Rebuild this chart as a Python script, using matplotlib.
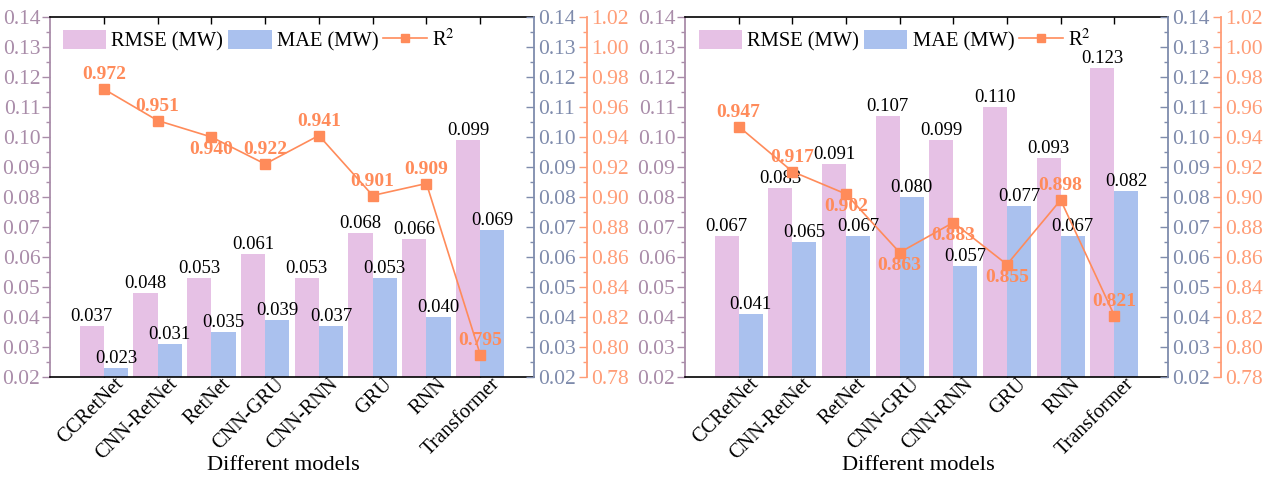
import matplotlib
matplotlib.use("Agg")
import matplotlib.pyplot as plt
from matplotlib.ticker import MultipleLocator, FormatStrFormatter
from matplotlib.patches import Patch
from matplotlib.lines import Line2D
from matplotlib.transforms import ScaledTranslation

plt.rcParams['font.family'] = ['Liberation Serif', 'DejaVu Serif']
plt.rcParams['mathtext.fontset'] = 'stix'

models = ["CCRetNet", "CNN-RetNet", "RetNet", "CNN-GRU", "CNN-RNN", "GRU", "RNN", "Transformer"]

rmse_left = [0.037, 0.048, 0.053, 0.061, 0.053, 0.068, 0.066, 0.099]
mae_left = [0.023, 0.031, 0.035, 0.039, 0.037, 0.053, 0.040, 0.069]
r2_left = [0.972, 0.951, 0.940, 0.922, 0.941, 0.901, 0.909, 0.795]
r2_pos_left = ["a", "a", "b", "a", "a", "a", "a", "a"]

rmse_right = [0.067, 0.083, 0.091, 0.107, 0.099, 0.110, 0.093, 0.123]
mae_right = [0.041, 0.065, 0.067, 0.080, 0.057, 0.077, 0.067, 0.082]
r2_right = [0.947, 0.917, 0.902, 0.863, 0.883, 0.855, 0.898, 0.821]
r2_pos_right = ["a", "a", "b", "b", "b", "b", "a", "a"]

C_RMSE = "#E6C1E5"
C_MAE = "#AAC1EE"
C_R2 = "#FF8B5A"
C_LAX = "#A98CA9"
C_BAX = "#7E8BAC"
C_OAX = "#FF9D77"

FS_BAR = 13.5
FS_R2 = 14
FS_TICK = 15.5
FS_XT = 14.7
FS_LEG = 14.8
FS_XL = 16.2

fig = plt.figure(figsize=(12.69, 4.8), dpi=100)
W, H = 1269, 480


def panel(left_px, width_px, rmse, mae, r2, pos, leg_x):
    ax = fig.add_axes([left_px / W, (480 - 377) / H, width_px / W, 360 / H])
    x = list(range(1, len(models) + 1))
    w = 0.45
    xr = [i - w / 2 for i in x]
    xm = [i + w / 2 for i in x]
    ax.bar(xr, rmse, width=w, color=C_RMSE, zorder=2)
    ax.bar(xm, mae, width=w, color=C_MAE, zorder=2)
    for xi, v in zip(xr, rmse):
        ax.annotate(f"{v:.3f}", (xi, v), xytext=(0, 1), textcoords="offset points",
                    ha="center", va="bottom", fontsize=FS_BAR, color="black", zorder=5)
    for xi, v in zip(xm, mae):
        ax.annotate(f"{v:.3f}", (xi, v), xytext=(0, 1), textcoords="offset points",
                    ha="center", va="bottom", fontsize=FS_BAR, color="black", zorder=5)
    ax.set_xlim(0, 9)
    ax.set_ylim(0.02, 0.14)
    ax.set_xticks(x)
    ax.set_xticklabels(models, rotation=45, ha="right", va="top",
                       rotation_mode="anchor", fontsize=FS_XT)
    ax.tick_params(axis="x", direction="in", top=True, length=5, width=1, pad=4)
    shift = ScaledTranslation(10 / 100, 8 / 100, fig.dpi_scale_trans)
    for lab in ax.get_xticklabels():
        lab.set_transform(lab.get_transform() + shift)
    ax.yaxis.set_major_locator(MultipleLocator(0.01))
    ax.yaxis.set_minor_locator(MultipleLocator(0.005))
    ax.yaxis.set_major_formatter(FormatStrFormatter("%.2f"))
    ax.tick_params(axis="y", which="major", direction="out", length=6, width=1,
                   colors=C_LAX, labelsize=FS_TICK, pad=1)
    ax.tick_params(axis="y", which="minor", direction="out", length=3, width=1, colors=C_LAX)
    ax.spines["left"].set_color(C_LAX)
    ax.spines["left"].set_linewidth(1.3)
    ax.spines["right"].set_visible(False)
    ax.spines["top"].set_linewidth(1.2)
    ax.spines["bottom"].set_linewidth(1.2)
    ax.set_xlabel("Different models", fontsize=FS_XL)
    ax.xaxis.set_label_coords(0.483, (377 - 465) / 360)
    ax.xaxis.label.set_va("center")

    ax2 = ax.twinx()
    ax2.set_ylim(0.02, 0.14)
    ax2.yaxis.set_major_locator(MultipleLocator(0.01))
    ax2.yaxis.set_minor_locator(MultipleLocator(0.005))
    ax2.yaxis.set_major_formatter(FormatStrFormatter("%.2f"))
    ax2.tick_params(axis="y", which="major", direction="in", length=6, width=1,
                    colors=C_BAX, labelsize=FS_TICK, pad=3)
    ax2.tick_params(axis="y", which="minor", direction="in", length=3, width=1, colors=C_BAX)
    for s in ["left", "top", "bottom"]:
        ax2.spines[s].set_visible(False)
    ax2.spines["right"].set_color(C_BAX)
    ax2.spines["right"].set_linewidth(1.3)

    ax3 = ax.twinx()
    ax3.spines["right"].set_position(("outward", 53 * 0.72))
    ax3.set_ylim(0.78, 1.02)
    ax3.yaxis.set_major_locator(MultipleLocator(0.02))
    ax3.yaxis.set_minor_locator(MultipleLocator(0.01))
    ax3.yaxis.set_major_formatter(FormatStrFormatter("%.2f"))
    ax3.tick_params(axis="y", which="major", direction="in", length=6, width=1,
                    colors=C_OAX, labelsize=FS_TICK, pad=3)
    ax3.tick_params(axis="y", which="minor", direction="in", length=3, width=1, colors=C_OAX)
    for s in ["left", "top", "bottom"]:
        ax3.spines[s].set_visible(False)
    ax3.spines["right"].set_color(C_OAX)
    ax3.spines["right"].set_linewidth(1.3)
    ax3.plot(x, r2, color=C_R2, lw=1.2, marker="s", ms=7, zorder=4)
    for xi, v, p in zip(x, r2, pos):
        if p == "a":
            ax3.annotate(f"{v:.3f}", (xi, v), xytext=(0, 4), textcoords="offset points",
                         ha="center", va="bottom", fontsize=FS_R2, fontweight="bold",
                         color=C_R2, zorder=6)
        else:
            ax3.annotate(f"{v:.3f}", (xi, v), xytext=(0, -3), textcoords="offset points",
                         ha="center", va="top", fontsize=FS_R2, fontweight="bold",
                         color=C_R2, zorder=6)

    handles = [Patch(facecolor=C_RMSE, edgecolor="none"),
               Patch(facecolor=C_MAE, edgecolor="none"),
               Line2D([], [], color=C_R2, lw=1.2, marker="s", ms=6)]
    labels = ["RMSE (MW)", "MAE (MW)", "R$^2$"]
    ax3.legend(handles, labels, loc="upper left", bbox_to_anchor=(leg_x, 0.965),
               ncol=3, frameon=False, fontsize=FS_LEG, borderpad=0, borderaxespad=0,
               handlelength=2.1, handleheight=1.07, handletextpad=0.25, columnspacing=0.25)


panel(50, 484, rmse_left, mae_left, r2_left, r2_pos_left, 0.027)
panel(685, 483, rmse_right, mae_right, r2_right, r2_pos_right, 0.029)

fig.savefig("out.png", dpi=100)
